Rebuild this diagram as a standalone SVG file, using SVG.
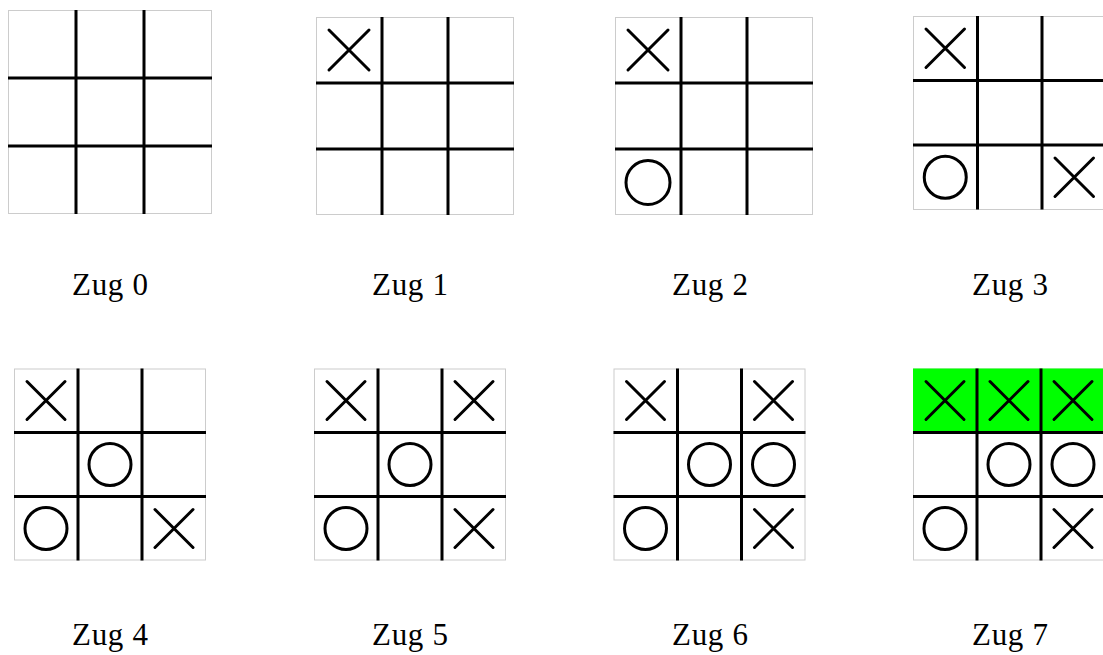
<svg xmlns="http://www.w3.org/2000/svg" width="1103" height="655" viewBox="0 0 1103 655">
<style>
.bd{fill:#fff;stroke:#cccccc;stroke-width:1}
.gr{stroke:#000;stroke-width:3;fill:none}
.x{stroke:#000;stroke-width:3;stroke-linecap:round;fill:none}
.o{stroke:#000;stroke-width:3;fill:none}
.win{fill:#00ff00}
.lb{font-family:"Liberation Serif","Times New Roman",serif;font-size:31px;fill:#000;text-anchor:middle}
</style>
<rect x="0" y="0" width="1103" height="655" fill="#fff"/>

<g id="board0">
<rect class="bd" x="8.5" y="10.5" width="203" height="203"/>
<path class="gr" d="M76,10V214M144,10V214M8,78H212M8,146H212"/>
<text class="lb" x="110" y="295" textLength="76">Zug 0</text>
</g>

<g id="board1">
<rect class="bd" x="316.5" y="17.5" width="197" height="197"/>
<path class="gr" d="M382,17V215M448,17V215M316,83H514M316,149H514"/>
<path class="x" d="M329,30L369,70M369,30L329,70"/>
<text class="lb" x="410" y="295" textLength="76">Zug 1</text>
</g>

<g id="board2">
<rect class="bd" x="615.5" y="17.5" width="197" height="197"/>
<path class="gr" d="M681,17V215M747,17V215M615,83H813M615,149H813"/>
<path class="x" d="M628,30L668,70M668,30L628,70"/>
<circle class="o" cx="648" cy="182.5" r="22"/>
<text class="lb" x="710" y="295" textLength="76">Zug 2</text>
</g>

<g id="board3">
<rect class="bd" x="913.5" y="16.5" width="193" height="193"/>
<path class="gr" d="M977.5,16V209.5M1042,16V209.5M913,80.5H1106M913,145H1106"/>
<path class="x" d="M926,29L964.5,67.5M964.5,29L926,67.5"/>
<circle class="o" cx="945.25" cy="177.25" r="21"/>
<path class="x" d="M1055,158L1093.5,196.5M1093.5,158L1055,196.5"/>
<text class="lb" x="1010" y="295" textLength="76">Zug 3</text>
</g>

<g id="board4">
<rect class="bd" x="14.5" y="369" width="191" height="191"/>
<path class="gr" d="M78,368.5V560.5M142,368.5V560.5M14,432.5H206M14,496.5H206"/>
<path class="x" d="M27,381.5L65,419.5M65,381.5L27,419.5"/>
<circle class="o" cx="110" cy="464.5" r="21"/>
<circle class="o" cx="46" cy="528.5" r="21"/>
<path class="x" d="M155,509.5L193,547.5M193,509.5L155,547.5"/>
<text class="lb" x="110" y="645" textLength="76">Zug 4</text>
</g>

<g id="board5">
<rect class="bd" x="314.5" y="369" width="191" height="191"/>
<path class="gr" d="M378,368.5V560.5M442,368.5V560.5M314,432.5H506M314,496.5H506"/>
<path class="x" d="M327,381.5L365,419.5M365,381.5L327,419.5"/>
<path class="x" d="M455,381.5L493,419.5M493,381.5L455,419.5"/>
<circle class="o" cx="410" cy="464.5" r="21"/>
<circle class="o" cx="346" cy="528.5" r="21"/>
<path class="x" d="M455,509.5L493,547.5M493,509.5L455,547.5"/>
<text class="lb" x="410" y="645" textLength="76">Zug 5</text>
</g>

<g id="board6">
<rect class="bd" x="614" y="369" width="191" height="191"/>
<path class="gr" d="M677.5,368.5V560.5M741.5,368.5V560.5M613.5,432.5H805.5M613.5,496.5H805.5"/>
<path class="x" d="M626.5,381.5L664.5,419.5M664.5,381.5L626.5,419.5"/>
<path class="x" d="M754.5,381.5L792.5,419.5M792.5,381.5L754.5,419.5"/>
<circle class="o" cx="709.5" cy="464.5" r="21"/>
<circle class="o" cx="773.5" cy="464.5" r="21"/>
<circle class="o" cx="645.5" cy="528.5" r="21"/>
<path class="x" d="M754.5,509.5L792.5,547.5M792.5,509.5L754.5,547.5"/>
<text class="lb" x="710" y="645" textLength="76">Zug 6</text>
</g>

<g id="board7">
<rect class="bd" x="913.5" y="369" width="191" height="191"/>
<rect class="win" x="913" y="368.5" width="192" height="64"/>
<path class="gr" d="M977,368.5V560.5M1041,368.5V560.5M913,432.5H1105M913,496.5H1105"/>
<path class="x" d="M926,381.5L964,419.5M964,381.5L926,419.5"/>
<path class="x" d="M990,381.5L1028,419.5M1028,381.5L990,419.5"/>
<path class="x" d="M1054,381.5L1092,419.5M1092,381.5L1054,419.5"/>
<circle class="o" cx="1009" cy="464.5" r="21"/>
<circle class="o" cx="1073" cy="464.5" r="21"/>
<circle class="o" cx="945" cy="528.5" r="21"/>
<path class="x" d="M1054,509.5L1092,547.5M1092,509.5L1054,547.5"/>
<text class="lb" x="1010" y="645" textLength="76">Zug 7</text>
</g>

<g id="connectors"></g>
</svg>
